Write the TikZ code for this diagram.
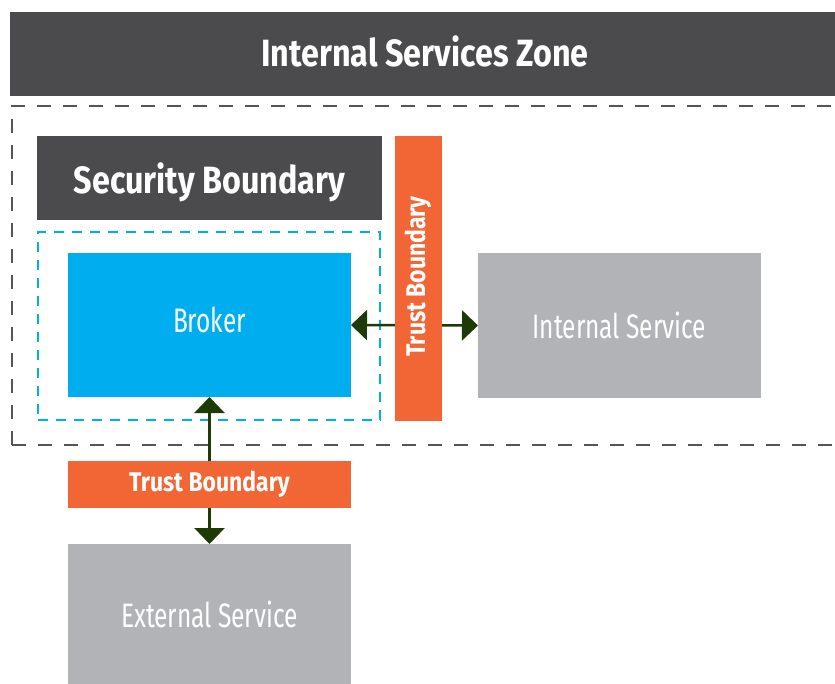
\documentclass[tikz,border=0pt]{standalone}
\usepackage{fontspec}
\setmainfont{Fira Sans}[FakeStretch=0.72]
\newfontfamily\boldcond{Fira Sans Bold}[FakeStretch=0.85]
\usetikzlibrary{arrows.meta}
\definecolor{darkbar}{HTML}{4B4B4D}
\definecolor{zonedash}{HTML}{555557}
\definecolor{brokerblue}{HTML}{00AEEF}
\definecolor{trustorange}{HTML}{F26535}
\definecolor{svcgray}{HTML}{B2B3B6}
\definecolor{arrowgreen}{HTML}{1C3B05}
\tikzset{
  box/.style={draw=none, inner sep=0pt, outer sep=0pt, text=white, align=center},
  headfont/.style={font=\boldcond\fontsize{38}{42}\selectfont},
  headbox/.style={box, fill=darkbar, headfont},
  svcfont/.style={font=\fontsize{34}{38}\selectfont},
  svcbox/.style={box, fill=svcgray, minimum width=283pt, minimum height=144pt, svcfont},
  trustfont/.style={font=\boldcond\fontsize{27}{31}\selectfont},
  trustbox/.style={box, fill=trustorange, trustfont},
  flow/.style={draw=arrowgreen, line width=2.6pt, {Triangle[length=16pt,width=30pt]}-{Triangle[length=16pt,width=30pt]}, shorten <=0pt, shorten >=0pt},
}
\begin{document}
\begin{tikzpicture}[x=1pt,y=-1pt]
\useasboundingbox (0,0) rectangle (835,684);
\clip (0,0) rectangle (835,684);
% header
\node[headbox, minimum width=830pt, minimum height=84pt] (zonehead) at (425,54) {};
\node[box, headfont] (zonetext) at (425,51) {Internal Services Zone};
% outer dashed zone
\node[draw=zonedash, line width=2.2pt, dash pattern=on 14pt off 12pt, minimum width=838pt, minimum height=339pt, inner sep=0pt] (zone) at (431,275.5) {};
% security boundary
\node[headbox, minimum width=345pt, minimum height=84pt] (sechead) at (209.5,178) {};
\node[box, headfont] (sectext) at (209.5,182) {Security Boundary};
\node[draw=brokerblue, line width=2.5pt, dash pattern=on 10pt off 8pt, minimum width=342pt, minimum height=188pt, inner sep=0pt] (secbox) at (209,326) {};
% services
\node[svcbox, fill=brokerblue] (broker) at (209.5,325) {};
\node[box, svcfont] (brokertext) at (209.5,320) {Broker};
\node[svcbox] (internal) at (619.5,325.5) {Internal Service};
\node[svcbox] (external) at (209.5,616) {};
\node[box, svcfont] (externaltext) at (209.5,614) {External Service};
% arrows
\draw[flow] (broker.east) -- (internal.west);
\draw[flow] (broker.south) -- (external.north);
% trust boundaries
\node[trustbox, minimum width=47pt, minimum height=285pt] (tbv) at (418.5,278.5) {};
\node[box, trustfont, rotate=90] (tbvlabel) at (418.5,276.5) {Trust Boundary};
\node[trustbox, minimum width=283pt, minimum height=47pt] (tbh) at (209.5,484.5) {Trust Boundary};
\end{tikzpicture}
\end{document}
